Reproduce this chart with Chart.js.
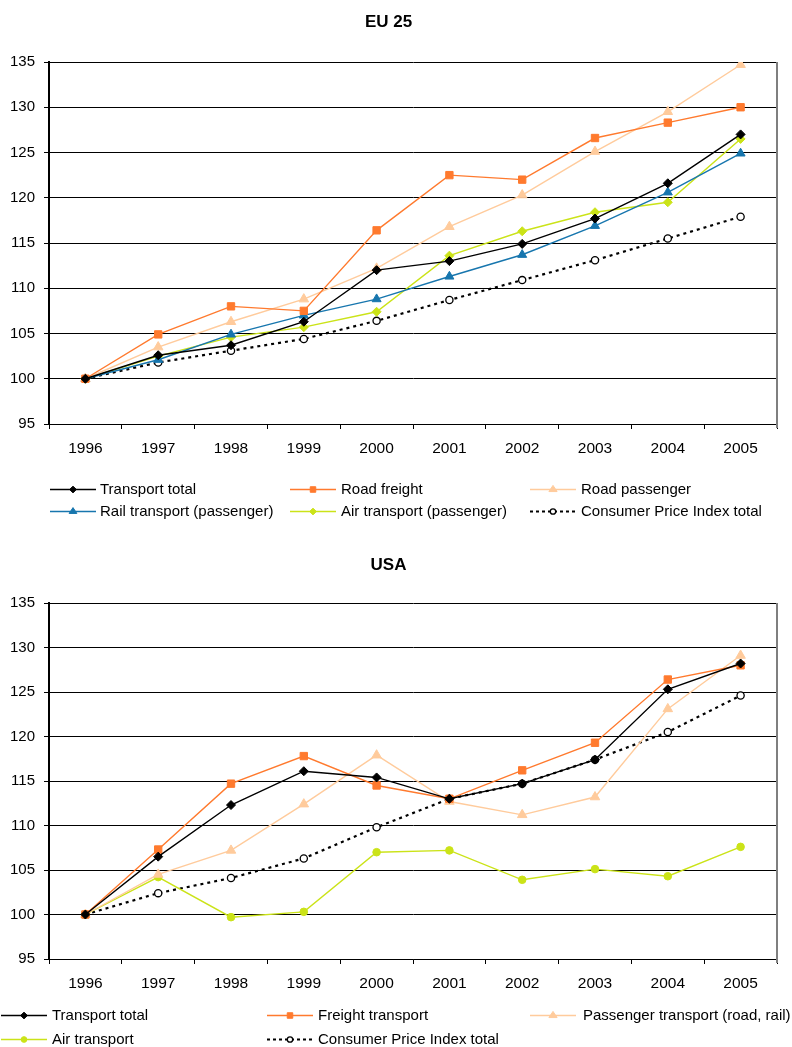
<!DOCTYPE html>
<html>
<head>
<meta charset="utf-8">
<script src="https://cdn.jsdelivr.net/npm/chart.js@4/dist/chart.umd.min.js"></script>
<style>
  html, body { margin: 0; padding: 0; background: #fff; }
  .panel { position: relative; width: 792px; }
  canvas { display: block; }
</style>
</head>
<body>
<div class="panel" style="height:535px"><canvas id="euChart" width="792" height="535"></canvas></div>
<div class="panel" style="height:512px"><canvas id="usChart" width="792" height="512"></canvas></div>
<script>
// ---- Data (index 1996 = 100) ----
const years = ['1996', '1997', '1998', '1999', '2000', '2001', '2002', '2003', '2004', '2005'];
const yTicks = [95, 100, 105, 110, 115, 120, 125, 130, 135];

// EU 25
const euTransportTotal = [100, 102.6, 103.7, 106.3, 112.0, 113.0, 114.9, 117.7, 121.6, 127.0];
const euRoadFreight    = [100, 104.9, 108.0, 107.5, 116.4, 122.5, 122.0, 126.6, 128.3, 130.0];
const euRoadPassenger  = [100, 103.5, 106.3, 108.8, 112.2, 116.8, 120.3, 125.1, 129.5, 134.7];
const euRail           = [100, 102.1, 104.9, 107.0, 108.8, 111.3, 113.7, 116.9, 120.6, 124.9];
const euAir            = [100, 102.5, 104.6, 105.7, 107.4, 113.6, 116.3, 118.4, 119.5, 126.5];
const euCpi            = [100, 101.8, 103.1, 104.4, 106.4, 108.7, 110.9, 113.1, 115.5, 117.9];

// USA
const usTransportTotal = [100, 106.5, 112.3, 116.1, 115.4, 113.0, 114.7, 117.4, 125.3, 128.2];
const usFreight        = [100, 107.3, 114.7, 117.8, 114.5, 113.0, 116.2, 119.3, 126.4, 128.0];
const usPassenger      = [100, 104.5, 107.2, 112.4, 117.9, 112.7, 111.2, 113.2, 123.1, 129.1];
const usAir            = [100, 104.2,  99.7, 100.3, 107.0, 107.2, 103.9, 105.1, 104.3, 107.6];
const usCpi            = [100, 102.4, 104.1, 106.3, 109.8, 113.0, 114.7, 117.4, 120.5, 124.6];

// ---- Styles ----
const FONT = "'Liberation Sans', Arial, sans-serif";
const C = {
  black: '#000000',
  orange: '#FF7A2E',
  peach: '#FFCB9C',
  blue: '#1776AE',
  lime: '#CBE318'
};

function series(label, data, color, pointStyle, radius, extra) {
  return Object.assign({
    label: label,
    data: data,
    borderColor: color,
    backgroundColor: color,
    pointBackgroundColor: color,
    pointBorderColor: color,
    pointBorderWidth: 1,
    pointStyle: pointStyle,
    pointRadius: radius,
    pointHoverRadius: radius,
    borderWidth: 1.4,
    tension: 0,
    fill: false
  }, extra || {});
}

function cpiSeries(data) {
  return series('Consumer Price Index total', data, C.black, 'circle', 3.6, {
    pointBackgroundColor: '#ffffff',
    pointBorderColor: '#000000',
    pointBorderWidth: 1.3,
    borderWidth: 2.2,
    borderDash: [3, 4]
  });
}

// Small marker renderer for the legend samples
function drawMarker(ctx, style, x, y, r, fill, stroke, lw) {
  ctx.save();
  ctx.fillStyle = fill;
  ctx.strokeStyle = stroke;
  ctx.lineWidth = lw;
  ctx.setLineDash([]);
  ctx.beginPath();
  if (style === 'circle') {
    ctx.arc(x, y, r, 0, Math.PI * 2);
  } else if (style === 'rect') {
    const s = r * Math.SQRT1_2;
    ctx.rect(x - s, y - s, 2 * s, 2 * s);
  } else if (style === 'rectRot') {
    ctx.moveTo(x, y - r); ctx.lineTo(x + r, y); ctx.lineTo(x, y + r); ctx.lineTo(x - r, y);
    ctx.closePath();
  } else if (style === 'triangle') {
    const h = r * 1.5, w = r * Math.sqrt(3) / 2 * 1.15;
    ctx.moveTo(x, y - r); ctx.lineTo(x + w, y + r * 0.5); ctx.lineTo(x - w, y + r * 0.5);
    ctx.closePath();
  }
  ctx.fill();
  ctx.stroke();
  ctx.restore();
}

// Legend laid out on a fixed three-column grid below the plot
const gridLegend = {
  id: 'gridLegend',
  afterDraw(chart, args, opts) {
    const ctx = chart.ctx;
    ctx.save();
    chart.data.datasets.forEach((ds, i) => {
      const s = opts.slots[i];
      if (!s) return;
      ctx.strokeStyle = ds.borderColor;
      ctx.lineWidth = ds.borderWidth;
      ctx.setLineDash(ds.borderDash ? [3, 3] : []);
      ctx.beginPath();
      ctx.moveTo(s.x, s.y + 0.5);
      ctx.lineTo(s.x + opts.lineLength, s.y + 0.5);
      ctx.stroke();
      drawMarker(ctx, ds.pointStyle, s.x + opts.lineLength / 2, s.y + 0.5,
        ds.pointRadius * 0.75, ds.pointBackgroundColor, ds.pointBorderColor, ds.pointBorderWidth);
      ctx.fillStyle = '#000';
      ctx.font = opts.font;
      ctx.textAlign = 'left';
      ctx.textBaseline = 'middle';
      ctx.fillText(ds.label, s.textX, s.y + 1);
    });
    ctx.restore();
  }
};

// Grey frame line on the right edge of the plot area
const rightFrame = {
  id: 'rightFrame',
  afterDraw(chart) {
    const a = chart.chartArea, ctx = chart.ctx;
    ctx.save();
    ctx.strokeStyle = '#7f7f7f';
    ctx.lineWidth = 2;
    ctx.beginPath();
    ctx.moveTo(a.right, a.top);
    ctx.lineTo(a.right, a.bottom + 4);
    ctx.stroke();
    ctx.restore();
  }
};

function buildOptions(titleText, titlePad, bottomPad, slots) {
  return {
    responsive: false,
    animation: false,
    devicePixelRatio: 1,
    layout: { padding: { left: 0, right: 15, top: 0, bottom: bottomPad } },
    plugins: {
      legend: { display: false },
      tooltip: { enabled: false },
      title: {
        display: true,
        text: titleText,
        color: '#000',
        font: { family: FONT, size: 17, weight: 'bold', lineHeight: 1.2 },
        padding: titlePad
      },
      gridLegend: { slots: slots, lineLength: 46, font: '15px ' + FONT }
    },
    scales: {
      x: {
        type: 'category',
        offset: true,
        afterFit: (s) => { s.height = 40; },
        grid: {
          display: true, drawOnChartArea: false, drawTicks: true,
          tickLength: 5, color: '#000', offset: true
        },
        border: { display: true, color: '#000', width: 1 },
        ticks: { color: '#000', padding: 10, font: { family: FONT, size: 15.5 }, maxRotation: 0, autoSkip: false }
      },
      y: {
        min: 95,
        max: 135,
        afterFit: (s) => { s.width = 49; },
        afterBuildTicks: (s) => { s.ticks = yTicks.map(v => ({ value: v })); },
        grid: { color: '#000', lineWidth: 1, tickLength: 5, drawTicks: true },
        border: { display: true, color: '#000', width: 2 },
        ticks: { color: '#000', padding: 9, font: { family: FONT, size: 15 } }
      }
    }
  };
}

// ---- EU 25 ----
new Chart(document.getElementById('euChart'), {
  type: 'line',
  data: {
    labels: years,
    datasets: [
      series('Transport total', euTransportTotal, C.black, 'rectRot', 4.5),
      series('Road freight', euRoadFreight, C.orange, 'rect', 5.2),
      series('Road passenger', euRoadPassenger, C.peach, 'triangle', 5.5),
      series('Rail transport (passenger)', euRail, C.blue, 'triangle', 5.2),
      series('Air transport (passenger)', euAir, C.lime, 'rectRot', 4.5),
      cpiSeries(euCpi)
    ]
  },
  options: buildOptions('EU 25', { top: 12, bottom: 29.6 }, 71, [
    { x: 50, textX: 100, y: 489 },
    { x: 290, textX: 341, y: 489 },
    { x: 530, textX: 581, y: 489 },
    { x: 50, textX: 100, y: 511 },
    { x: 290, textX: 341, y: 511 },
    { x: 530, textX: 581, y: 511 }
  ]),
  plugins: [gridLegend, rightFrame]
});

// ---- USA ----
new Chart(document.getElementById('usChart'), {
  type: 'line',
  data: {
    labels: years,
    datasets: [
      series('Transport total', usTransportTotal, C.black, 'rectRot', 4.5),
      series('Freight transport', usFreight, C.orange, 'rect', 5.2),
      series('Passenger transport (road, rail)', usPassenger, C.peach, 'triangle', 5.5),
      series('Air transport', usAir, C.lime, 'circle', 3.8),
      cpiSeries(usCpi)
    ]
  },
  options: buildOptions('USA', { top: 19.8, bottom: 27.8 }, 48, [
    { x: 1, textX: 52, y: 480 },
    { x: 267, textX: 318, y: 480 },
    { x: 530, textX: 583, y: 480 },
    { x: 1, textX: 52, y: 504 },
    { x: 267, textX: 318, y: 504 }
  ]),
  plugins: [gridLegend, rightFrame]
});
</script>
</body>
</html>
